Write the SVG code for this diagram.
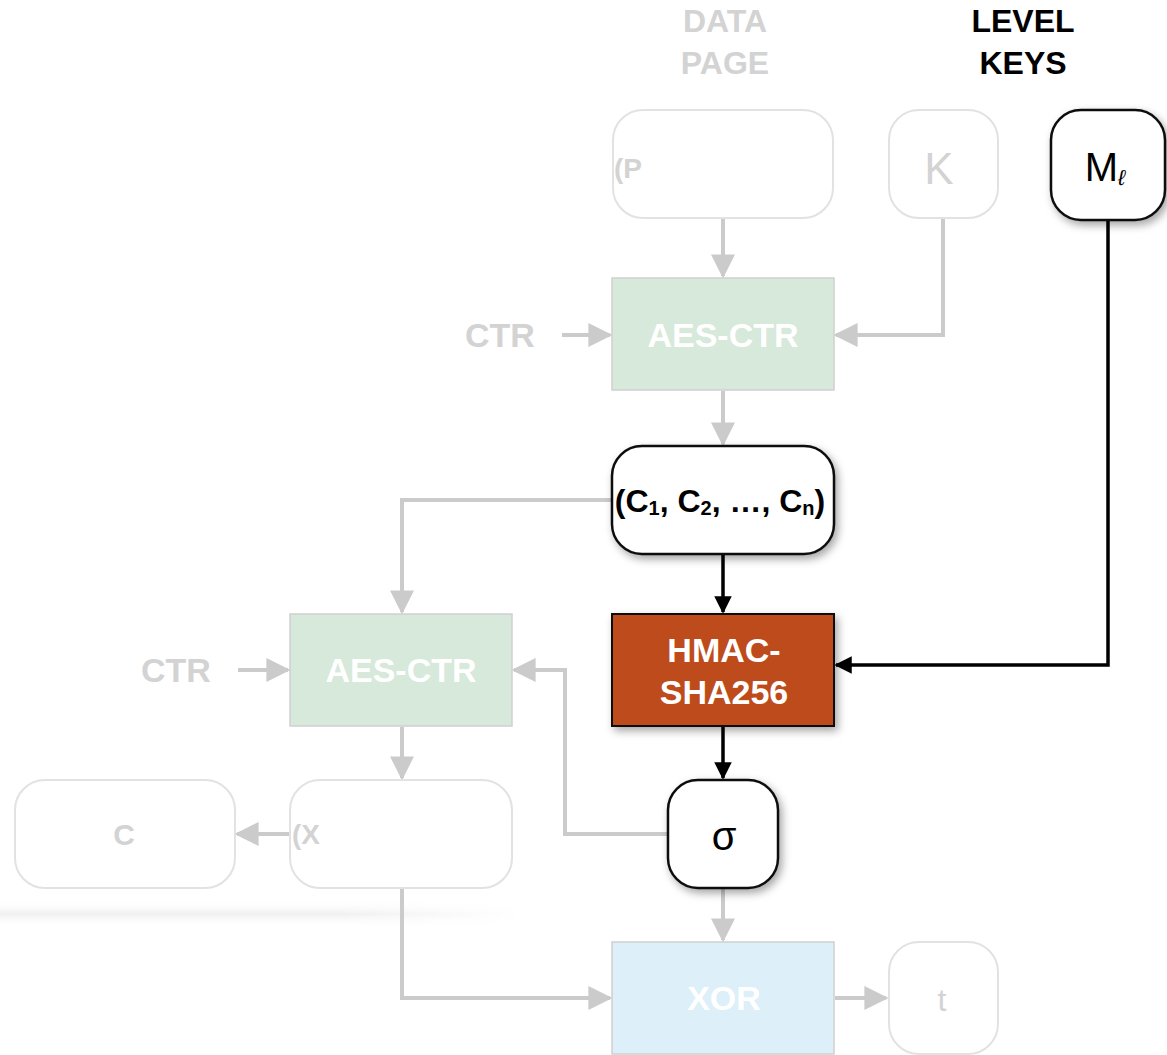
<svg xmlns="http://www.w3.org/2000/svg" width="1167" height="1055" viewBox="0 0 1167 1055">
<defs>
<style>
.t{font-family:"Liberation Sans",Arial,sans-serif;font-weight:bold;text-anchor:middle}
.s{font-family:"Liberation Sans",Arial,sans-serif;font-weight:bold}
.g{fill:#d3d3d3}
.faint{fill:#fff;stroke:#e2e2e2;stroke-width:2}
.dark{fill:#fff;stroke:#111;stroke-width:2.5}
.gl{fill:none;stroke:#cbcbcb;stroke-width:4}
.bl{fill:none;stroke:#000;stroke-width:3.5}
</style>
<marker id="ag" viewBox="0 0 10 10" refX="9" refY="5" markerWidth="6" markerHeight="6" orient="auto" markerUnits="strokeWidth"><path d="M0,0L10,5L0,10z" fill="#cbcbcb"/></marker>
<marker id="ab" viewBox="0 0 10 10" refX="9" refY="5" markerWidth="5" markerHeight="5" orient="auto" markerUnits="strokeWidth"><path d="M0,0L10,5L0,10z" fill="#000"/></marker>
<filter id="sh" x="-30%" y="-30%" width="160%" height="160%"><feDropShadow dx="3" dy="4" stdDeviation="4" flood-color="#000" flood-opacity="0.35"/></filter>
<linearGradient id="band" x1="0" y1="0" x2="0" y2="1"><stop offset="0" stop-color="#fff" stop-opacity="0"/><stop offset="0.5" stop-color="#f0f0f0"/><stop offset="1" stop-color="#fff" stop-opacity="0"/></linearGradient>
<linearGradient id="bandh" x1="0" y1="0" x2="1" y2="0"><stop offset="0" stop-color="#fff" stop-opacity="0"/><stop offset="0.65" stop-color="#fff" stop-opacity="0"/><stop offset="1" stop-color="#fff"/></linearGradient>
</defs>
<rect width="1167" height="1055" fill="#fff"/>
<rect x="0" y="900" width="520" height="28" fill="url(#band)"/>
<rect x="0" y="900" width="520" height="28" fill="url(#bandh)"/>
<g id="headers">
<text class="t g" x="725" y="32" font-size="32">DATA</text>
<text class="t g" x="725" y="74" font-size="32">PAGE</text>
<text class="t" x="1023" y="32" font-size="32" fill="#000">LEVEL</text>
<text class="t" x="1023" y="74" font-size="32" fill="#000">KEYS</text>
</g>
<g id="connectors">
<path class="gl" d="M723,219V276" marker-end="url(#ag)"/>
<path class="gl" d="M943,219V335H836" marker-end="url(#ag)"/>
<path class="gl" d="M562,335H610" marker-end="url(#ag)"/>
<path class="gl" d="M723,391V444" marker-end="url(#ag)"/>
<path class="gl" d="M611,500H402V612" marker-end="url(#ag)"/>
<path class="bl" d="M723,555V612" marker-end="url(#ab)"/>
<path class="bl" d="M1108,221V665H836" marker-end="url(#ab)"/>
<path class="bl" d="M723,727V778" marker-end="url(#ab)"/>
<path class="gl" d="M667,834H565V670H514" marker-end="url(#ag)"/>
<path class="gl" d="M238,670H288" marker-end="url(#ag)"/>
<path class="gl" d="M402,727V778" marker-end="url(#ag)"/>
<path class="gl" d="M289,834H237" marker-end="url(#ag)"/>
<path class="gl" d="M402,889V998H610" marker-end="url(#ag)"/>
<path class="gl" d="M723,889V940" marker-end="url(#ag)"/>
<path class="gl" d="M835,998H886" marker-end="url(#ag)"/>
</g>
<g id="node-p">
<rect class="faint" x="613" y="110" width="220" height="108" rx="30"/>
<text class="s g" x="614" y="178" font-size="28">(P</text>
</g>
<g id="node-k">
<rect class="faint" x="889" y="110" width="109" height="108" rx="30"/>
<text x="939" y="184" font-family="Liberation Sans,Arial,sans-serif" font-size="44" fill="#d3d3d3" text-anchor="middle">K</text>
</g>
<g id="node-m">
<rect class="dark" x="1051" y="110" width="114" height="110" rx="30" filter="url(#sh)"/>
<text x="1105" y="181" font-family="Liberation Sans,Arial,sans-serif" font-size="40" fill="#000" text-anchor="middle">M<tspan font-size="22" font-style="italic" dy="4">ℓ</tspan></text>
</g>
<g id="node-aes1">
<rect x="612" y="278" width="222" height="112" fill="#d6e9da" stroke="#d0d0d0" stroke-width="1.5"/>
<text class="t" x="723" y="347" font-size="34" fill="#fff">AES-CTR</text>
</g>
<text class="t g" x="500" y="347" font-size="34">CTR</text>
<g id="node-c">
<rect class="dark" x="612" y="446" width="222" height="108" rx="30" filter="url(#sh)"/>
<text class="t" x="720" y="512" font-size="32" fill="#000">(C<tspan font-size="20" dy="3">1</tspan><tspan dy="-3">, C</tspan><tspan font-size="20" dy="3">2</tspan><tspan dy="-3">, …, C</tspan><tspan font-size="20" dy="3">n</tspan><tspan dy="-3">)</tspan></text>
</g>
<g id="node-hmac">
<rect x="612" y="614" width="222" height="112" fill="#bd4c1b" stroke="#111" stroke-width="2" filter="url(#sh)"/>
<text class="t" x="724" y="662" font-size="34" fill="#fff">HMAC-</text>
<text class="t" x="724" y="704" font-size="34" fill="#fff">SHA256</text>
</g>
<g id="node-aes2">
<rect x="290" y="614" width="222" height="112" fill="#d6e9da" stroke="#d0d0d0" stroke-width="1.5"/>
<text class="t" x="401" y="682" font-size="34" fill="#fff">AES-CTR</text>
</g>
<text class="t g" x="176" y="682" font-size="34">CTR</text>
<g id="node-sigma">
<rect class="dark" x="668" y="780" width="110" height="108" rx="30" filter="url(#sh)"/>
<text x="724" y="850" font-family="Liberation Sans,Arial,sans-serif" font-size="40" fill="#000" text-anchor="middle">σ</text>
</g>
<g id="node-x">
<rect class="faint" x="290" y="780" width="222" height="108" rx="30"/>
<text class="s g" x="292" y="844" font-size="28">(X</text>
</g>
<g id="node-cc">
<rect class="faint" x="15" y="780" width="220" height="108" rx="30"/>
<text class="t g" x="124" y="845" font-size="30">C</text>
</g>
<g id="node-xor">
<rect x="612" y="942" width="222" height="112" fill="#ddeff8" stroke="#d0d0d0" stroke-width="1.5"/>
<text class="t" x="724" y="1010" font-size="34" fill="#fff">XOR</text>
</g>
<g id="node-t">
<rect class="faint" x="889" y="942" width="109" height="112" rx="30"/>
<text x="942" y="1011" font-family="Liberation Sans,Arial,sans-serif" font-size="32" fill="#d3d3d3" text-anchor="middle">t</text>
</g>
</svg>
